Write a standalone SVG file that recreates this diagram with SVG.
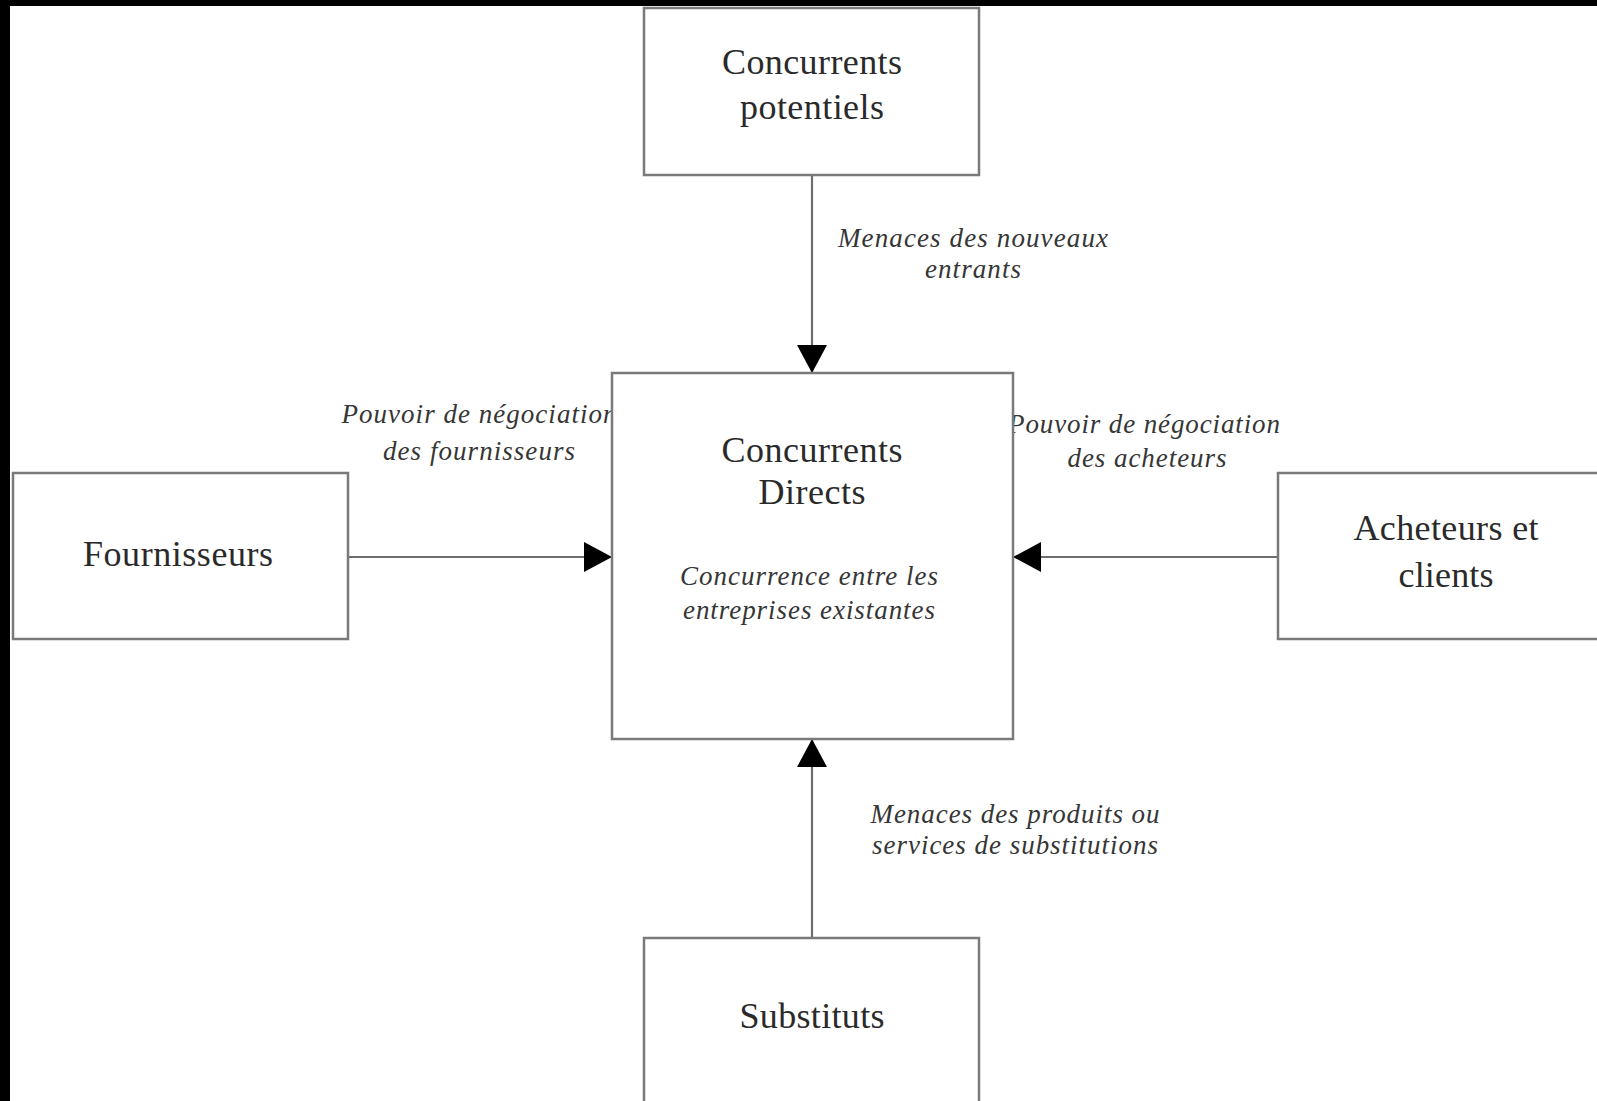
<svg xmlns="http://www.w3.org/2000/svg" width="1597" height="1101" viewBox="0 0 1597 1101">
<defs>
<style>
.box{fill:#fff;stroke:#7a7a7a;stroke-width:2.5}
.conn{stroke:#6e6e6e;stroke-width:2.2;fill:none}
text{font-family:"Liberation Serif","Times New Roman","DejaVu Serif",serif}
.t{font-size:36px;fill:#2a2a2a;text-anchor:middle}
.i{font-style:italic;font-size:27px;fill:#363636;text-anchor:middle}
</style>
<marker id="ah" markerUnits="userSpaceOnUse" markerWidth="30" markerHeight="30" viewBox="0 0 28 30" refX="28" refY="15" orient="auto">
<path d="M0,0 L28,15 L0,30 Z" fill="#000"/>
</marker>
</defs>
<rect x="0" y="0" width="1597" height="1101" fill="#fff"/>
<rect x="0" y="0" width="1597" height="6" fill="#000"/>
<rect x="0" y="0" width="10" height="1101" fill="#000"/>
<g id="connectors">
<line class="conn" x1="812" y1="175" x2="812" y2="373" marker-end="url(#ah)"/>
<line class="conn" x1="348" y1="557" x2="612" y2="557" marker-end="url(#ah)"/>
<line class="conn" x1="1278" y1="557" x2="1013" y2="557" marker-end="url(#ah)"/>
<line class="conn" x1="812" y1="938" x2="812" y2="739" marker-end="url(#ah)"/>
<text class="i" x="973" y="247" textLength="270">Menaces des nouveaux</text>
<text class="i" x="973" y="278" textLength="96">entrants</text>
<text class="i" x="479" y="423" textLength="275">Pouvoir de négociation</text>
<text class="i" x="479" y="460" textLength="192">des fournisseurs</text>
<text class="i" x="1144" y="433" textLength="272">Pouvoir de négociation</text>
<text class="i" x="1147" y="467" textLength="159">des acheteurs</text>
<text class="i" x="1015" y="823" textLength="289">Menaces des produits ou</text>
<text class="i" x="1015" y="854" textLength="286">services de substitutions</text>
</g>
<g id="potentiels">
<rect class="box" x="644" y="8" width="335" height="167"/>
<text class="t" x="812" y="74" textLength="180">Concurrents</text>
<text class="t" x="812" y="119" textLength="144">potentiels</text>
</g>
<g id="directs">
<rect class="box" x="612" y="373" width="401" height="366"/>
<text class="t" x="812" y="462" textLength="181">Concurrents</text>
<text class="t" x="812" y="504" textLength="107">Directs</text>
<text class="i" x="809" y="585" textLength="258">Concurrence entre les</text>
<text class="i" x="809" y="619" textLength="252">entreprises existantes</text>
</g>
<g id="fournisseurs">
<rect class="box" x="13" y="473" width="335" height="166"/>
<text class="t" x="178" y="566" textLength="190">Fournisseurs</text>
</g>
<g id="acheteurs">
<rect class="box" x="1278" y="473" width="330" height="166"/>
<text class="t" x="1446" y="540" textLength="185">Acheteurs et</text>
<text class="t" x="1446" y="587" textLength="95">clients</text>
</g>
<g id="substituts">
<rect class="box" x="644" y="938" width="335" height="180"/>
<text class="t" x="812" y="1028" textLength="145">Substituts</text>
</g>
</svg>
